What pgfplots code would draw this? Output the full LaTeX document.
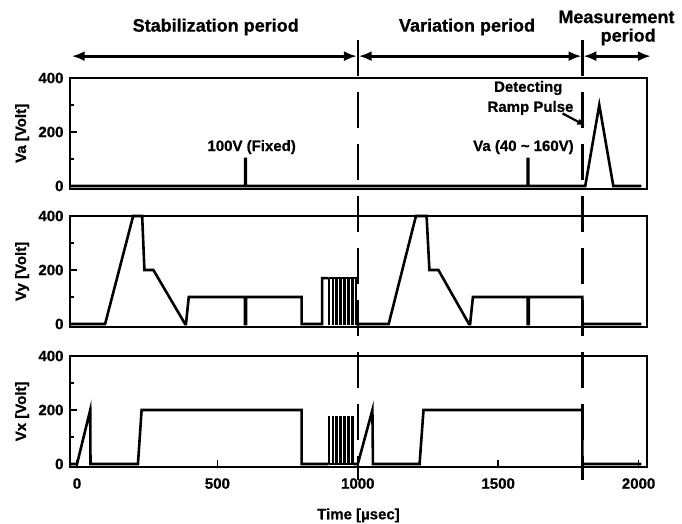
\documentclass[border=0pt]{standalone}
\usepackage{pgfplots}
\pgfplotsset{compat=1.18}
\usetikzlibrary{arrows.meta}
\usepackage{fontspec}
\setmainfont{Liberation Sans}[BoldFeatures={FakeBold=0.8}]
\newcommand{\hdr}{\fontsize{18}{20}\selectfont\bfseries}
\newcommand{\lbl}{\fontsize{15}{17}\selectfont\bfseries}
\pgfplotsset{panel/.style={
  scale only axis, width=577pt, height=110.7pt,
  xmin=-25, xmax=2030, ymin=-10, ymax=400,
  ytick={0,200,400}, minor ytick={100,300},
  tick align=inside, ytick pos=left, xtick pos=bottom,
  major tick length=7pt, minor tick length=4pt,
  axis line style={line width=2pt},
  every tick/.style={line width=1.8pt, black},
  tick label style={font=\lbl},
  /pgf/number format/assume math mode=true,
  /pgf/number format/1000 sep={},
  yticklabel style={xshift=-3pt},
  every axis y label/.style={at={(axis description cs:-0.083,0.5)}, rotate=90, anchor=center, font=\lbl},
  every axis x label/.style={at={(axis description cs:0.5,-0.44)}, anchor=center, font=\lbl},
  clip=false,
}}
\tikzset{sig/.style={line width=2.6pt, black, mark=none, line join=miter},
         comb/.style={line width=1.5pt, black, mark=none, line join=miter}}
\begin{document}
\begin{tikzpicture}
\useasboundingbox (0pt,0pt) rectangle (682pt,-523pt);
% ---------------- Va panel
\begin{axis}[panel, name=va, at={(70pt,-78pt)}, anchor=north west, ylabel={Va [Volt]}, xtick=\empty]
\addplot[sig] coordinates {(-25,0) (599,0) (599,100) (601,100) (601,0) (1605,0) (1605,100) (1607,100) (1607,0) (1810,0) (1860,300) (1910,0) (2010,0)};
% period dividers
\draw[line width=2.2pt, dash pattern=on 36pt off 16pt] (axis cs:1000,541) -- (axis cs:1000,-1089);
\draw[line width=2.2pt, dash pattern=on 36pt off 16pt] (axis cs:1800,541) -- (axis cs:1800,-1089);
% period arrows
\draw[line width=2.8pt, {Latex[length=13pt,width=10pt]}-{Latex[length=13pt,width=10pt]}] (axis cs:-19,481) -- (axis cs:997,481);
\draw[line width=2.8pt, {Latex[length=13pt,width=10pt]}-{Latex[length=13pt,width=10pt]}] (axis cs:1003,481) -- (axis cs:1797,481);
\draw[line width=2.8pt, {Latex[length=13pt,width=10pt]}-{Latex[length=13pt,width=10pt]}] (axis cs:1803,481) -- (axis cs:2044,481);
\node[font=\hdr] at (axis cs:494,589) {Stabilization period};
\node[font=\hdr] at (axis cs:1389,589) {Variation period};
\node[font=\hdr] at (axis cs:1921,626) {Measurement};
\node[font=\hdr] at (axis cs:1963,552) {period};
% annotations
\node[font=\lbl] at (axis cs:622,144) {100V (Fixed)};
\node[font=\lbl] at (axis cs:1590,144) {Va (40 {\char"007E} 160V)};
\node[font=\lbl] at (axis cs:1607,363) {Detecting};
\node[font=\lbl] at (axis cs:1615,289) {Ramp Pulse};
\draw[line width=2.2pt, -{Latex[length=8pt,width=7pt]}] (axis cs:1729,269) -- (axis cs:1810,224);
\end{axis}
% ---------------- Vy panel
\begin{axis}[panel, name=vy, at={(70pt,-216pt)}, anchor=north west, ylabel={Vy [Volt]}, xtick=\empty]
\addplot[sig] coordinates {(-25,0) (100,0) (200,400) (232,400) (240,200) (272,200) (385,0) (388,0) (398,100)
 (598,100) (598,0) (602,0) (602,100) (800,100) (800,0) (873,0) (873,170) (896,170)};
\addplot[comb] coordinates {(895,170) (895,0) (899,0) (899,170)
 (909,170) (909,0) (913,0) (913,170)
 (923,170) (923,0) (927,0) (927,170)
 (937,170) (937,0) (941,0) (941,170)
 (951,170) (951,0) (955,0) (955,170)
 (965,170) (965,0) (969,0) (969,170)
 (979,170) (979,0) (983,0) (983,170)
 (993,170) (993,0) (1000,0)};
\addplot[sig] coordinates {(993,0) (1110,0) (1207,400) (1245,400) (1255,200) (1287,200) (1396,0) (1400,0) (1410,100)
 (1605,100) (1605,0) (1609,0) (1609,100) (1800,100) (1800,0) (2010,0)};
\end{axis}
% ---------------- Vx panel
\begin{axis}[panel, name=vx, at={(70pt,-356pt)}, anchor=north west, ylabel={Vx [Volt]}, xlabel={Time [µsec]},
  xtick={0,500,1000,1500,2000}, xticklabel style={yshift=-8pt}]
\addplot[sig] coordinates {(-25,0) (0,0) (47,200) (48,0) (217,0) (230,200) (800,200) (800,0) (896,0)};
\addplot[comb] coordinates {(895,0) (895,175) (899,175) (899,0)
 (909,0) (909,175) (913,175) (913,0)
 (923,0) (923,175) (927,175) (927,0)
 (937,0) (937,175) (941,175) (941,0)
 (951,0) (951,175) (955,175) (955,0)
 (965,0) (965,175) (969,175) (969,0)
 (979,0) (979,175) (983,175) (983,0) (1000,0)};
\addplot[sig] coordinates {(985,0) (1000,0) (1052,200) (1054,0) (1220,0) (1234,200) (1800,200) (1800,0) (2010,0)};
\end{axis}
\end{tikzpicture}
\end{document}
